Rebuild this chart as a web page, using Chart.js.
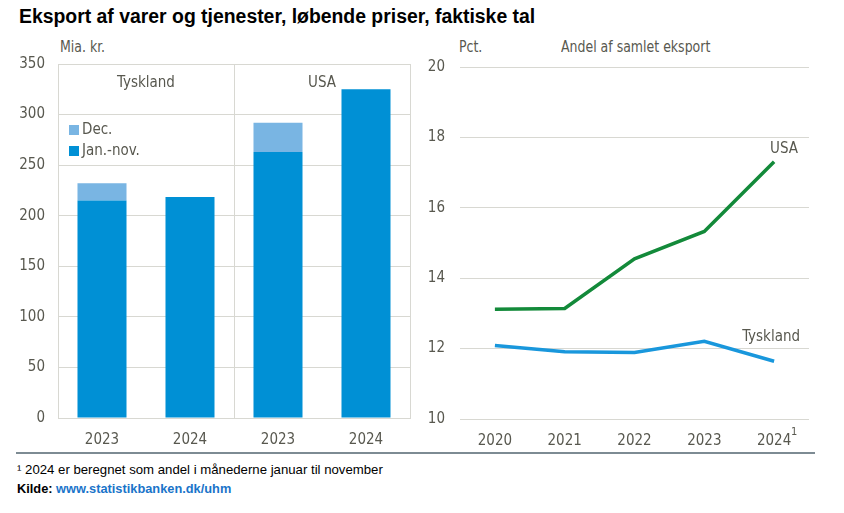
<!DOCTYPE html>
<html lang="da">
<head>
<meta charset="UTF-8">
<title>Eksport af varer og tjenester</title>
<style>
    body { margin: 0; width: 844px; height: 513px; background: #fff; position: relative; overflow: hidden;
           font-family: "Liberation Sans", Arial, sans-serif; }
    .t { position: absolute; white-space: nowrap; }
    #title { left: 19px; top: 5px; font-size: 19.4px; font-weight: bold; color: #000; }
    .narrow { font-family: "Liberation Sans Narrow", "Arial Narrow", "DejaVu Sans Condensed", sans-serif;
              font-size: 16px; color: #58584f; top: 37px; transform: scaleX(0.87); transform-origin: left center; }
    .box { position: absolute; top: 40px; height: 420px; }
    #rule { position: absolute; left: 16px; top: 452px; width: 799px; height: 2px; background: #7d8b93; }
    #note { left: 17px; top: 462px; font-size: 13.2px; color: #000; }
    #src { left: 17px; top: 481px; font-size: 12.8px; font-weight: bold; color: #000; }
    #src span { color: #1a74c9; }
</style>
</head>
<body>
    <div class="t" id="title">Eksport af varer og tjenester, løbende priser, faktiske tal</div>
    <div class="t narrow" style="left:60px">Mia. kr.</div>
    <div class="t narrow" style="left:459px">Pct.</div>
    <div class="t narrow" style="left:561px">Andel af samlet eksport</div>

    <div class="box" style="left:0; width:420px"><canvas id="barChart" width="420" height="420"></canvas></div>
    <div class="box" style="left:420px; width:424px"><canvas id="lineChart" width="424" height="420"></canvas></div>

    <div id="rule"></div>
    <div class="t" id="note">¹ 2024 er beregnet som andel i månederne januar til november</div>
    <div class="t" id="src">Kilde: <span>www.statistikbanken.dk/uhm</span></div>

    <script src="https://cdn.jsdelivr.net/npm/chart.js"></script>
    <script>
        // left panel: exports in bn. DKK
        const barCats = ['2023', '2024', '2023', '2024'];
        const barGroups = ['Tyskland', 'USA'];
        const janNov = [215, 218.5, 263, 325];
        const dec = [17, null, 29, null];

        // right panel: share of total exports, pct.
        const years = ['2020', '2021', '2022', '2023', '2024'];
        const usaShare = [13.12, 13.14, 14.55, 15.33, 17.31];
        const deShare = [12.09, 11.91, 11.89, 12.21, 11.64];
        const footMark = '1';

        const narrowFont = '"Liberation Sans Narrow", "Arial Narrow", "DejaVu Sans Condensed", sans-serif';
        const textCol = '#58584f';
        const gridCol = '#d8d8d2';
        Chart.defaults.font.family = narrowFont;
        Chart.defaults.font.size = 15;
        Chart.defaults.color = textCol;

        // group labels and legend inside the bar plot
        const barExtras = {
            id: 'barExtras',
            afterDraw(chart) {
                const c = chart.ctx, x = chart.scales.x, area = chart.chartArea;
                c.save();
                c.font = '15px ' + narrowFont;
                c.fillStyle = textCol;
                c.textBaseline = 'middle';
                c.textAlign = 'center';
                barGroups.forEach((g, i) => {
                    const cx = (x.getPixelForValue(i * 2) + x.getPixelForValue(i * 2 + 1)) / 2;
                    c.fillText(g, cx, area.top + 19);
                });
                c.textAlign = 'left';
                const sets = chart.data.datasets.slice().reverse();
                sets.forEach((ds, i) => {
                    const y = area.top + 66 + i * 21;
                    c.fillStyle = ds.backgroundColor;
                    c.fillRect(area.left + 11, y - 5, 10, 10);
                    c.fillStyle = textCol;
                    c.fillText(ds.label, area.left + 24, y);
                });
                c.restore();
            }
        };

        new Chart(document.getElementById('barChart'), {
            type: 'bar',
            data: {
                labels: barCats,
                datasets: [
                    { label: 'Jan.-nov.', data: janNov, backgroundColor: '#0090d5' },
                    { label: 'Dec.', data: dec, backgroundColor: '#79b5e3' }
                ]
            },
            options: {
                responsive: false,
                animation: false,
                devicePixelRatio: 1,
                categoryPercentage: 1,
                barPercentage: 0.557,
                layout: { padding: { top: 24, right: 10, bottom: 0, left: 0 } },
                plugins: { legend: { display: false }, tooltip: { enabled: false } },
                scales: {
                    x: {
                        stacked: true,
                        grid: {
                            drawTicks: false,
                            color: ctx => (ctx.index === undefined || ctx.index % 2 === 0) ? gridCol : 'rgba(0,0,0,0)'
                        },
                        border: { color: gridCol },
                        ticks: { padding: 13 },
                        afterFit: s => { s.height = 42; }
                    },
                    y: {
                        stacked: true,
                        min: 0, max: 350,
                        ticks: { stepSize: 50, padding: 13 },
                        grid: { color: gridCol, drawTicks: false },
                        border: { color: gridCol },
                        afterFit: s => { s.width = 58; }
                    }
                }
            },
            plugins: [barExtras]
        });

        // end labels for the lines and the footnote mark on the last year
        const lineExtras = {
            id: 'lineExtras',
            afterDraw(chart) {
                const c = chart.ctx, area = chart.chartArea;
                const offsets = [[10, -13], [-3, -24]];
                c.save();
                c.font = '15px ' + narrowFont;
                c.fillStyle = textCol;
                c.textAlign = 'center';
                c.textBaseline = 'middle';
                chart.data.datasets.forEach((ds, i) => {
                    const pts = chart.getDatasetMeta(i).data;
                    const p = pts[pts.length - 1];
                    c.fillText(ds.label, p.x + offsets[i][0], p.y + offsets[i][1]);
                });
                const xs = chart.scales.x;
                c.font = '11px ' + narrowFont;
                c.fillText(footMark, xs.getPixelForValue(years.length - 1) + 20, area.bottom + 13);
                c.restore();
            }
        };

        new Chart(document.getElementById('lineChart'), {
            type: 'line',
            data: {
                labels: years,
                datasets: [
                    { label: 'USA', data: usaShare, borderColor: '#138a3a', borderWidth: 3.5, pointRadius: 0, tension: 0 },
                    { label: 'Tyskland', data: deShare, borderColor: '#1997dc', borderWidth: 3.5, pointRadius: 0, tension: 0 }
                ]
            },
            options: {
                responsive: false,
                animation: false,
                devicePixelRatio: 1,
                layout: { padding: { top: 27, right: 35, bottom: 0, left: 0 } },
                plugins: { legend: { display: false }, tooltip: { enabled: false } },
                scales: {
                    x: {
                        offset: true,
                        grid: { display: false, drawTicks: false },
                        border: { display: false },
                        ticks: { padding: 13 },
                        afterFit: s => { s.height = 41; }
                    },
                    y: {
                        min: 10, max: 20,
                        ticks: { stepSize: 2, padding: 15 },
                        grid: { color: gridCol, drawTicks: false },
                        border: { display: false },
                        afterFit: s => { s.width = 40; }
                    }
                }
            },
            plugins: [lineExtras]
        });
    </script>
</body>
</html>
